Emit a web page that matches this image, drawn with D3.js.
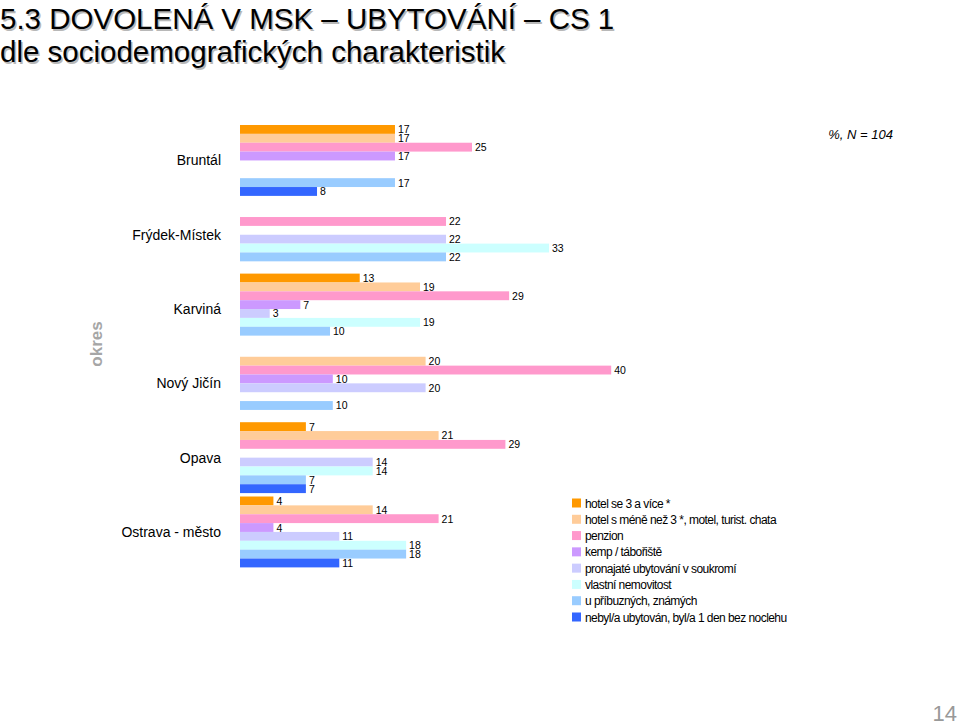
<!DOCTYPE html>
<html>
<head>
<meta charset="utf-8">
<script src="https://cdn.jsdelivr.net/npm/d3@7"></script>
<style>
  html, body { margin: 0; padding: 0; background: #fff; }
  svg { display: block; }
  text { font-family: "Liberation Sans", Arial, sans-serif; }
</style>
</head>
<body>
<svg id="chart" width="960" height="727"></svg>
<script>
// ---- data ----
const categories = ["Bruntál", "Frýdek-Místek", "Karviná", "Nový Jičín", "Opava", "Ostrava - město"];
const seriesNames = [
  "hotel se 3 a více *",
  "hotel s méně než 3 *, motel, turist. chata",
  "penzion",
  "kemp / tábořiště",
  "pronajaté ubytování v soukromí",
  "vlastní nemovitost",
  "u příbuzných, známých",
  "nebyl/a ubytován, byl/a 1 den bez noclehu"
];
const seriesColors = ["#FF9900", "#FFCC99", "#FF99CC", "#CC99FF", "#CCCCFF", "#CCFFFF", "#99CCFF", "#3366FF"];
// values per category (percent), null = no bar
const bruntal      = [16.7, 16.7, 25.0, 16.7, null, null, 16.7, 8.3];
const frydekMistek = [null, null, 22.2, null, 22.2, 33.3, 22.2, null];
const karvina      = [12.9, 19.4, 29.0, 6.5, 3.2, 19.4, 9.7, null];
const novyJicin    = [null, 20.0, 40.0, 10.0, 20.0, null, 10.0, null];
const opava        = [7.1, 21.4, 28.6, null, 14.3, 14.3, 7.1, 7.1];
const ostrava      = [3.6, 14.3, 21.4, 3.6, 10.7, 17.9, 17.9, 10.7];
const values = [bruntal, frydekMistek, karvina, novyJicin, opava, ostrava];

const svg = d3.select("#chart");

// ---- titles ----
const title = svg.append("g");
[["5.3 DOVOLENÁ V MSK – UBYTOVÁNÍ – CS 1", 29], ["dle sociodemografických charakteristik", 62]].forEach(([t, y]) => {
  title.append("text").attr("x", 1.5).attr("y", y + 1.5).attr("font-size", 29.5).attr("fill", "#b8b8b8").text(t);
  title.append("text").attr("x", 0).attr("y", y).attr("font-size", 29.5).attr("fill", "#000").text(t);
});

svg.append("text").attr("x", 893).attr("y", 139).attr("text-anchor", "end")
  .attr("font-size", 13).attr("font-style", "italic").attr("fill", "#000").text("%, N = 104");

// ---- scales ----
const x = d3.scaleLinear().domain([0, 50]).range([240, 704]);
const y0 = d3.scaleBand().domain(categories).range([123.3, 569.1]).paddingInner(0.046).paddingOuter(0.023);
const y1 = d3.scaleBand().domain(d3.range(seriesNames.length)).range([0, y0.bandwidth()]);

// ---- bars ----
const groups = svg.append("g").selectAll("g").data(categories).join("g")
  .attr("transform", c => `translate(0,${y0(c)})`);

groups.each(function(c, ci) {
  const g = d3.select(this);
  const data = values[ci].map((v, si) => ({ v, si })).filter(d => d.v !== null);
  g.selectAll("rect").data(data).join("rect")
    .attr("x", x(0))
    .attr("y", d => y1(d.si))
    .attr("width", d => x(d.v) - x(0))
    .attr("height", y1.bandwidth())
    .attr("fill", d => seriesColors[d.si]);
  g.selectAll("text.val").data(data).join("text").attr("class", "val")
    .attr("x", d => x(d.v) + 3)
    .attr("y", d => y1(d.si) + y1.bandwidth() / 2 + 4)
    .attr("font-size", 10.5)
    .attr("fill", "#000")
    .text(d => d3.format(".0f")(d.v));
});

// ---- category axis labels ----
svg.append("g").selectAll("text").data(categories).join("text")
  .attr("x", 221)
  .attr("y", c => y0(c) + y0.bandwidth() / 2 + 5)
  .attr("text-anchor", "end")
  .attr("font-size", 14)
  .attr("fill", "#000")
  .text(c => c);

svg.append("text")
  .attr("transform", "translate(102,344) rotate(-90)")
  .attr("text-anchor", "middle")
  .attr("font-size", 17)
  .attr("font-weight", "bold")
  .attr("fill", "#a6a6a6")
  .text("okres");

// ---- legend ----
const legend = svg.append("g");
const ly = d3.scaleLinear().domain([0, 7]).range([503, 617]);
seriesNames.forEach((name, i) => {
  legend.append("rect").attr("x", 572).attr("y", ly(i) - 4.5).attr("width", 9).attr("height", 9)
    .attr("fill", seriesColors[i]);
  legend.append("text").attr("x", 585).attr("y", ly(i) + 4.5).attr("font-size", 12)
    .attr("letter-spacing", -0.55).attr("fill", "#000").text(name);
});

// ---- page number ----
svg.append("text").attr("x", 957).attr("y", 721).attr("text-anchor", "end")
  .attr("font-size", 22).attr("fill", "#999").text("14");
</script>
</body>
</html>
